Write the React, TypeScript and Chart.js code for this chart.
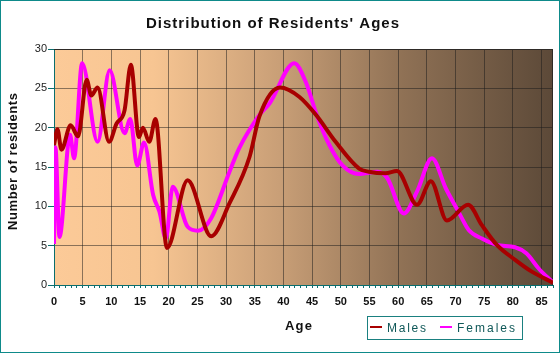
import React, { useEffect, useRef } from 'react';
import { Chart, registerables } from 'chart.js';

Chart.register(...registerables);

const titleText = "Distribution of Residents' Ages";
const xTitle = 'Age';
const yTitle = 'Number of residents';

const maleAges = [0, 0.6, 1.3, 2.9, 4.2, 5.7, 6.5, 7.6, 9.6, 10.9, 12.3, 13.4, 14.8, 15.5, 16.6, 17.7, 19.7, 23.3, 27.4, 30.6, 34.1, 35.8, 39.4, 42.8, 45.7, 49.1, 53.2, 54.9, 57.8, 59.8, 63.3, 65.7, 68.5, 72.2, 74.6, 77.2, 80.4, 83.3, 87];
const maleValues = [17.8, 19.8, 17.2, 20.3, 18.9, 26.1, 24.1, 25.1, 18.2, 20.5, 22.2, 28.0, 18.8, 20.0, 18.2, 21.1, 4.7, 13.3, 6.2, 10.4, 16.3, 21.4, 25.1, 23.9, 21.6, 18.2, 14.8, 14.4, 14.2, 14.5, 10.2, 13.2, 8.2, 10.2, 7.6, 5.1, 3.2, 1.7, 0.3];

const femaleAges = [0, 0.25, 0.95, 2.8, 3.5, 4.9, 7.6, 9.7, 12.3, 13.3, 14.5, 15.7, 17.3, 18.4, 19.5, 20.7, 23.3, 25.1, 27.4, 30.6, 32.3, 35.8, 37.6, 41.9, 43.9, 45.9, 48, 50.3, 53.2, 56.4, 58.1, 61, 63.3, 65.9, 68.3, 70.6, 72.3, 74.6, 77.2, 80.4, 82.4, 84.5, 87];
const femaleValues = [5.2, 17.5, 6.1, 19.1, 16.1, 28.2, 18.2, 27.3, 19.3, 21.1, 15.2, 18.1, 11.4, 9.3, 5.9, 12.5, 7.4, 6.9, 8.5, 14.4, 17.4, 21.6, 23.1, 28.2, 25.8, 21.4, 17.8, 15.2, 14.1, 14.4, 13.6, 9.1, 11.9, 16.1, 12.3, 9.2, 7.0, 5.9, 5.1, 4.8, 4.0, 2.1, 0.3];

const xMin = 0;
const xMax = 87;
const xLabelStep = 5;
const yMin = 0;
const yMax = 30;
const yStep = 5;

const seriesLabels = ['Males', 'Females'];
const seriesColors = ['#A80000', '#FF00FF'];

const gridColor = 'rgba(25,25,25,0.5)';
const axisColor = '#0a6e6e';

function drawSpaced(
  ctx: CanvasRenderingContext2D,
  text: string,
  left: number,
  y: number,
  font: string,
  color: string,
  target: number
) {
  ctx.save();
  ctx.font = font;
  (ctx as any).letterSpacing = '0px';
  const w0 = ctx.measureText(text).width;
  let sp = (target - w0) / Math.max(1, text.length - 1);
  sp = Math.max(-0.5, Math.min(3, sp));
  (ctx as any).letterSpacing = sp + 'px';
  ctx.fillStyle = color;
  ctx.textAlign = 'left';
  ctx.textBaseline = 'alphabetic';
  ctx.fillText(text, left, y);
  ctx.restore();
}

const decorPlugin = {
  id: 'decor',
  beforeDraw(chart: any) {
    const { ctx, chartArea } = chart;
    const { left, top, right, bottom } = chartArea;
    ctx.save();
    const g = ctx.createLinearGradient(left, 0, right, 0);
    g.addColorStop(0, '#FCCA98');
    g.addColorStop(0.2, '#F7C592');
    g.addColorStop(0.45, '#C99F77');
    g.addColorStop(0.7, '#8F7155');
    g.addColorStop(1, '#5C4938');
    ctx.fillStyle = g;
    ctx.fillRect(left, top, right - left, bottom - top);
    ctx.restore();
  },
  beforeDatasetsDraw(chart: any) {
    const { ctx, chartArea } = chart;
    const { left, top, right, bottom } = chartArea;
    ctx.save();
    ctx.strokeStyle = '#2e2a26';
    ctx.lineWidth = 1;
    ctx.beginPath();
    ctx.moveTo(left, top + 0.5);
    ctx.lineTo(right - 0.5, top + 0.5);
    ctx.lineTo(right - 0.5, bottom);
    ctx.stroke();
    ctx.restore();
  },
  afterDraw(chart: any) {
    const { ctx } = chart;
    ctx.save();
    // outer frame
    ctx.strokeStyle = '#0e8a8a';
    ctx.lineWidth = 1;
    ctx.strokeRect(0.5, 0.5, chart.width - 1, chart.height - 1);

    // title
    drawSpaced(ctx, titleText, 146, 28, 'bold 15px Arial, "Liberation Sans", sans-serif', '#111', 253);

    // x axis title
    drawSpaced(ctx, xTitle, 285, 330, 'bold 13px Arial, "Liberation Sans", sans-serif', '#111', 27);

    // y axis title (rotated)
    ctx.save();
    ctx.translate(17, 162);
    ctx.rotate(-Math.PI / 2);
    drawSpaced(ctx, yTitle, -68, 0, 'bold 13px Arial, "Liberation Sans", sans-serif', '#111', 137);
    ctx.restore();

    // legend
    ctx.strokeStyle = '#1a8080';
    ctx.lineWidth = 1;
    ctx.strokeRect(367.5, 316.5, 155, 23);
    const items = [
      { lx: 370, tx: 387, tw: 39 },
      { lx: 440, tx: 457, tw: 58 },
    ];
    items.forEach((it, i) => {
      ctx.strokeStyle = chart.data.datasets[i].borderColor;
      ctx.lineWidth = 2;
      ctx.beginPath();
      ctx.moveTo(it.lx, 327);
      ctx.lineTo(it.lx + 12, 327);
      ctx.stroke();
      drawSpaced(ctx, chart.data.datasets[i].label, it.tx, 331.5, '12px Arial, "Liberation Sans", sans-serif', '#0f5858', it.tw);
    });
    ctx.restore();
  },
};

export default function App() {
  const ref = useRef<HTMLCanvasElement>(null);
  useEffect(() => {
    document.body.style.margin = '0';
    const canvas = ref.current!;
    const chart = new Chart(canvas, {
      type: 'line',
      data: {
        datasets: [
          {
            label: seriesLabels[0],
            data: maleAges.map((x, i) => ({ x, y: maleValues[i] })),
            borderColor: seriesColors[0],
            backgroundColor: seriesColors[0],
            borderWidth: 4,
            pointRadius: 0,
            cubicInterpolationMode: 'monotone',
            fill: false,
          },
          {
            label: seriesLabels[1],
            data: femaleAges.map((x, i) => ({ x, y: femaleValues[i] })),
            borderColor: seriesColors[1],
            backgroundColor: seriesColors[1],
            borderWidth: 4,
            pointRadius: 0,
            cubicInterpolationMode: 'monotone',
            fill: false,
          },
        ],
      },
      options: {
        responsive: false,
        animation: false,
        layout: { padding: { left: 0, top: 49, right: 5, bottom: 0 } },
        plugins: {
          legend: { display: false },
          title: { display: false },
          tooltip: { enabled: false },
        },
        scales: {
          x: {
            type: 'linear',
            min: xMin,
            max: xMax,
            afterFit: (s: any) => {
              s.height = 68;
            },
            ticks: {
              stepSize: 1,
              autoSkip: false,
              maxRotation: 0,
              padding: 7,
              color: '#111',
              font: { family: 'Arial, "Liberation Sans", sans-serif', size: 11, weight: 'bold' },
              callback: (v: any) => (Number(v) % xLabelStep === 0 ? String(v) : ''),
            },
            grid: {
              color: (c: any) =>
                c.tick && c.tick.value % xLabelStep === 0 && c.tick.value > xMin ? gridColor : 'rgba(0,0,0,0)',
              tickColor: axisColor,
              tickLength: 3,
            },
            border: { color: axisColor, width: 1 },
          },
          y: {
            min: yMin,
            max: yMax,
            afterFit: (s: any) => {
              s.width = 54;
            },
            ticks: {
              stepSize: yStep,
              padding: 1,
              color: '#222',
              font: { family: 'Arial, "Liberation Sans", sans-serif', size: 11 },
            },
            grid: {
              color: (c: any) => (c.tick && c.tick.value > yMin ? gridColor : 'rgba(0,0,0,0)'),
              tickColor: axisColor,
              tickLength: 6,
            },
            border: { color: axisColor, width: 1 },
          },
        },
      } as any,
      plugins: [decorPlugin],
    });
    return () => chart.destroy();
  }, []);
  return <canvas ref={ref} width={560} height={353} style={{ display: 'block' }} />;
}
